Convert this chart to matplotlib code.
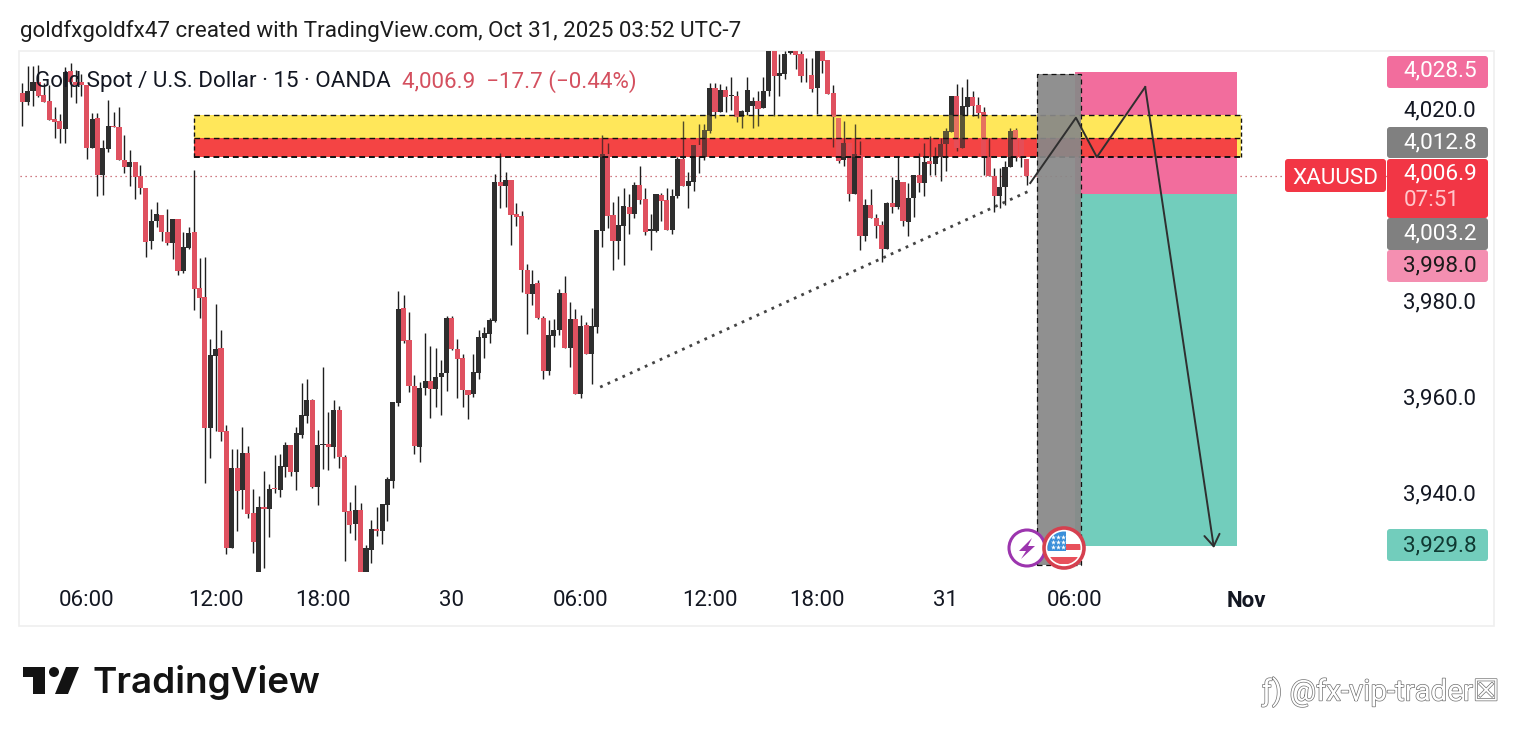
import matplotlib
matplotlib.use("Agg")
import matplotlib.pyplot as plt
import matplotlib.patheffects as pe
import numpy as np
from matplotlib.patches import Circle, FancyBboxPatch, Polygon, Rectangle
from matplotlib.transforms import ScaledTranslation

plt.rcParams["font.family"] = ["Roboto", "DejaVu Sans"]

# 15 min candles
opens = [
    4024.1, 4022.3, 4024.6, 4026.4, 4023.7, 4022.5, 4018.7, 4018.3, 4016.6, 4028.7,
    4026.4, 4026.4, 4025.8, 4012.8, 4018.9, 4007.0, 4012.5, 4017.3, 4017.1, 4010.3,
    4008.7, 4009.8, 4006.8, 4004.3, 3993.3, 3997.5, 3998.7, 3995.2, 3993.0, 3998.0,
    3987.1, 3991.9, 3995.2, 3983.5, 3981.6, 3954.4, 3969.4, 3971.0, 3953.7, 3929.4,
    3946.0, 3941.4, 3949.1, 3936.6, 3924.0, 3938.0, 3937.6, 3941.9, 3941.5, 3946.3,
    3950.8, 3945.3, 3952.9, 3956.9, 3960.2, 3942.1, 3950.9, 3951.0, 3950.5, 3958.1,
    3948.3, 3937.1, 3934.5, 3937.3, 3924.0, 3929.0, 3933.3, 3933.0, 3938.4, 3943.4,
    3959.6, 3979.3, 3972.7, 3963.1, 3950.5, 3962.8, 3964.1, 3962.6, 3965.0, 3965.9,
    3977.3, 3970.8, 3968.9, 3962.4, 3961.4, 3965.9, 3973.1, 3974.0, 3976.7, 4005.7,
    4004.7, 4006.0, 3998.9, 3998.6, 3987.3, 3982.3, 3984.5, 3977.4, 3966.3, 3973.5,
    3974.7, 3982.4, 3971.1, 3977.0, 3961.5, 3975.8, 3969.8, 3975.5, 3995.5, 4011.5,
    3998.7, 3993.4, 3996.5, 4000.4, 3999.0, 4005.0, 4002.1, 3995.5, 3995.4, 4002.9,
    4001.9, 3995.6, 4002.7, 4010.4, 4004.7, 4005.7, 4013.3, 4010.9, 4016.3, 4025.1,
    4020.1, 4024.8, 4023.6, 4023.5, 4019.2, 4020.3, 4021.5, 4022.5, 4021.1, 4024.5,
    4034.5, 4027.6, 4028.1, 4032.4, 4032.8, 4032.2, 4027.9, 4028.0, 4025.1, 4032.8,
    4031.0, 4024.1, 4018.9, 4010.1, 4013.7, 4003.1, 4011.3, 3994.4, 4000.8, 3998.1,
    3996.7, 3991.7, 4001.2, 4000.4, 4005.7, 3997.2, 4002.2, 4007.1, 4005.4, 4010.0,
    4009.4, 4010.8, 4013.5, 4016.1, 4023.6, 4012.6, 4021.3, 4023.3, 4021.7, 4020.3,
    4010.9, 4006.8, 4002.6, 4004.5, 4008.8, 4016.5, 4014.7, 4010.4,
]
closes = [
    4022.3, 4024.6, 4026.4, 4023.6, 4022.3, 4018.5, 4018.2, 4016.6, 4028.6, 4026.4,
    4025.8, 4025.8, 4012.8, 4018.7, 4007.0, 4012.6, 4017.3, 4017.0, 4010.3, 4008.7,
    4009.8, 4006.7, 4004.3, 3993.2, 3997.6, 3998.9, 3995.2, 3993.0, 3998.0, 3987.1,
    3992.1, 3994.9, 3983.4, 3981.4, 3954.4, 3969.6, 3970.8, 3953.6, 3929.4, 3946.0,
    3941.3, 3949.1, 3936.5, 3930.7, 3938.0, 3937.6, 3941.6, 3941.6, 3946.4, 3950.8,
    3945.3, 3953.3, 3957.1, 3960.2, 3942.1, 3950.8, 3951.0, 3950.5, 3958.1, 3948.3,
    3936.9, 3934.2, 3937.3, 3924.0, 3929.3, 3933.3, 3933.0, 3938.5, 3943.7, 3959.8,
    3979.2, 3972.6, 3963.1, 3950.7, 3962.8, 3964.1, 3962.6, 3965.0, 3965.8, 3977.3,
    3970.8, 3968.8, 3962.4, 3961.3, 3966.0, 3973.3, 3974.1, 3976.9, 4005.7, 4004.7,
    4006.0, 3998.8, 3998.4, 3987.2, 3982.3, 3984.4, 3977.2, 3966.3, 3973.7, 3974.8,
    3982.6, 3971.1, 3977.0, 3961.5, 3975.6, 3969.9, 3975.6, 3995.6, 4011.5, 3998.5,
    3993.4, 3996.7, 4000.6, 3999.0, 4005.0, 4001.9, 3995.3, 3995.8, 4003.1, 4001.7,
    3995.6, 4002.7, 4010.4, 4004.7, 4005.8, 4013.3, 4011.0, 4016.5, 4025.1, 4020.3,
    4024.7, 4023.4, 4023.8, 4019.2, 4020.4, 4024.8, 4022.5, 4020.8, 4024.6, 4034.5,
    4027.6, 4028.3, 4032.3, 4032.8, 4032.1, 4027.6, 4028.0, 4025.0, 4032.8, 4030.9,
    4024.0, 4019.1, 4010.0, 4013.7, 4003.1, 4011.4, 3994.4, 4000.8, 3998.1, 3996.5,
    3991.7, 4001.2, 4000.5, 4006.0, 3997.4, 4002.2, 4007.1, 4005.4, 4009.7, 4009.4,
    4010.9, 4013.5, 4016.3, 4023.6, 4012.6, 4021.5, 4023.3, 4021.5, 4020.0, 4010.9,
    4006.8, 4002.6, 4004.5, 4008.8, 4016.3, 4010.7, 4010.6, 4006.9,
]
highs = [
    4026.2, 4029.8, 4029.8, 4030.0, 4026.2, 4025.8, 4021.3, 4019.8, 4029.6, 4030.5,
    4028.9, 4028.2, 4025.8, 4019.9, 4019.9, 4014.4, 4022.7, 4020.3, 4021.3, 4015.4,
    4012.3, 4009.8, 4009.1, 4004.3, 3999.9, 4001.4, 3998.7, 4000.1, 3998.0, 3998.0,
    3995.2, 3996.3, 4008.1, 3989.7, 3989.9, 3973.0, 3980.2, 3974.9, 3955.0, 3950.0,
    3950.0, 3954.6, 3950.6, 3941.6, 3940.2, 3945.4, 3942.7, 3948.7, 3949.0, 3951.4,
    3950.8, 3954.6, 3963.8, 3964.6, 3960.4, 3953.9, 3967.0, 3957.8, 3960.2, 3959.0,
    3948.7, 3938.9, 3942.5, 3938.8, 3930.0, 3935.2, 3938.0, 3938.5, 3944.2, 3959.8,
    3982.9, 3982.1, 3978.5, 3965.4, 3963.9, 3974.1, 3971.5, 3971.0, 3968.5, 3977.7,
    3977.7, 3973.0, 3969.8, 3962.4, 3969.8, 3974.9, 3975.5, 3977.4, 4007.3, 4011.7,
    4007.6, 4006.0, 4001.2, 3999.6, 3988.5, 3987.3, 3985.2, 3977.8, 3976.9, 3977.1,
    3983.3, 3986.0, 3980.6, 3979.2, 3977.9, 3976.5, 3979.3, 3995.6, 4015.4, 4013.7,
    4001.5, 4002.6, 4004.3, 4003.1, 4005.7, 4009.0, 4004.3, 3999.0, 4003.1, 4003.3,
    4004.3, 4004.1, 4010.9, 4018.3, 4007.8, 4013.3, 4017.7, 4017.8, 4026.2, 4026.2,
    4026.0, 4025.7, 4027.4, 4024.5, 4020.6, 4027.4, 4023.4, 4024.5, 4027.4, 4035.0,
    4035.0, 4032.3, 4033.0, 4033.0, 4033.0, 4033.0, 4031.5, 4031.5, 4034.0, 4034.0,
    4031.0, 4025.8, 4018.9, 4018.3, 4013.7, 4017.6, 4014.2, 4002.1, 4004.2, 3998.9,
    3997.4, 4001.5, 4006.7, 4010.9, 4005.7, 4005.4, 4007.1, 4011.6, 4013.7, 4015.1,
    4013.0, 4014.7, 4016.9, 4023.6, 4026.0, 4025.5, 4027.1, 4024.5, 4023.4, 4021.3,
    4014.7, 4008.5, 4008.5, 4009.9, 4016.9, 4016.8, 4014.7, 4010.4,
]
lows = [
    4017.3, 4021.6, 4021.4, 4023.4, 4022.3, 4018.5, 4014.7, 4013.8, 4013.8, 4023.4,
    4022.1, 4023.5, 4010.5, 4012.8, 4002.8, 4002.9, 4011.9, 4017.0, 4010.3, 4007.5,
    4004.8, 4002.0, 4003.2, 3989.9, 3991.7, 3996.3, 3993.4, 3992.5, 3989.6, 3986.2,
    3986.7, 3991.7, 3979.0, 3977.2, 3943.0, 3948.2, 3953.8, 3951.7, 3928.1, 3929.4,
    3933.0, 3937.5, 3935.6, 3928.4, 3923.0, 3925.3, 3931.7, 3940.9, 3940.0, 3944.2,
    3944.4, 3941.4, 3952.3, 3955.5, 3941.8, 3938.3, 3945.8, 3945.6, 3948.2, 3946.1,
    3926.7, 3932.6, 3931.0, 3923.0, 3923.0, 3926.3, 3932.0, 3930.2, 3935.0, 3941.9,
    3959.0, 3972.0, 3961.9, 3949.0, 3947.4, 3961.2, 3956.5, 3958.8, 3957.1, 3962.1,
    3970.6, 3960.7, 3958.8, 3956.2, 3960.8, 3964.6, 3968.9, 3972.0, 3976.5, 4000.3,
    4000.5, 3992.5, 3996.5, 3982.8, 3974.0, 3980.0, 3977.1, 3964.5, 3965.4, 3971.2,
    3973.8, 3971.1, 3967.0, 3961.5, 3960.7, 3969.9, 3963.5, 3974.2, 3992.1, 3996.0,
    3987.2, 3989.6, 3988.3, 3994.8, 3998.2, 4001.0, 3994.6, 3991.5, 3995.3, 3997.4,
    3995.6, 3994.8, 4002.2, 4004.7, 4000.3, 4003.8, 4007.4, 4010.2, 4015.8, 4019.0,
    4020.1, 4020.3, 4020.6, 4018.2, 4016.8, 4019.5, 4016.8, 4017.2, 4021.0, 4023.6,
    4019.4, 4023.6, 4027.0, 4032.3, 4029.2, 4026.5, 4026.5, 4024.3, 4019.8, 4028.3,
    4023.9, 4013.0, 4009.5, 4009.0, 4001.7, 4003.1, 3991.5, 3993.3, 3998.1, 3994.0,
    3989.0, 3991.7, 3999.1, 4000.1, 3996.5, 3994.4, 3998.4, 4003.6, 4002.6, 4007.1,
    4007.1, 4005.8, 4007.9, 4016.0, 4012.1, 4012.6, 4019.6, 4019.4, 4019.0, 4007.1,
    4006.8, 3999.3, 4000.3, 4000.8, 4008.7, 4010.0, 4008.8, 4005.0,
]

time_ticks = [12, 36, 56, 80, 104, 128, 148, 172, 196, 228]
time_labels = ["06:00", "12:00", "18:00", "30", "06:00", "12:00", "18:00", "31", "06:00", "Nov"]
price_ticks = [4020, 3980, 3960, 3940]
price_labels = ["4,020.0", "3,980.0", "3,960.0", "3,940.0"]

last_price = 4006.9
zone_yellow = (4010.8, 4019.6)
zone_red = (4010.8, 4014.8)
zone_start, zone_end, zone_red_end = 32, 227, 226.2
entry, stop, target = 4003.2, 4028.5, 3929.8
box_start, box_end = 196, 226.2
grey_start, grey_end, grey_low, grey_high = 188.9, 197.2, 3925.8, 4028.1
trend_x = [107.6, 188]
trend_y = [3962.9, 4004.0]
path_x = [187.7, 196.2, 200.1, 209.1]
path_y = [4005.4, 4019.0, 4010.8, 4025.4]
arrow_tip = (221.9, 3929.4)

RED = "#DF5160"
BLACK = "#2E2E2E"
W, H = 1513, 738


def pixel_box(ax, x0, y0, x1, y1, color):
    ax.add_patch(FancyBboxPatch((x0 + 3, y0 + 3), x1 - x0 - 6, y1 - y0 - 6,
                                boxstyle="round,pad=3,rounding_size=3",
                                fc=color, ec="none"))


fig = plt.figure(figsize=(W / 100, H / 100), dpi=100, facecolor="white")

# chart frame sits behind everything
bg = fig.add_axes([0, 0, 1, 1])
bg.set_xlim(0, W)
bg.set_ylim(H, 0)
bg.axis("off")
bg.add_patch(Rectangle((18.5, 50.5), 1475, 575, fc="white", ec="#EFEFEF", lw=1.2))

ax = fig.add_axes([20 / W, 1 - 572 / H, 1367 / W, 521 / H])
ax.patch.set_alpha(0)
ax.set_xlim(-0.43, 254.13)
ax.set_ylim(3924.4, 4032.9)
for s in ax.spines.values():
    s.set_visible(False)

ax.axhline(last_price, color="#C0505C", lw=0.9, ls=(0, (1, 3)), zorder=1)

# short position box
ax.add_patch(Rectangle((box_start, entry), box_end - box_start, stop - entry, fc="#F26D9D", ec="none", zorder=1.5))
ax.add_patch(Rectangle((box_start, target), box_end - box_start, entry - target, fc="#72CDBC", ec="none", zorder=1.5))

# supply zones, opaque below the candles and a thin tint above
ax.add_patch(Rectangle((zone_start, zone_yellow[0]), zone_end - zone_start, zone_yellow[1] - zone_yellow[0],
                       fc="#FFE75A", ec="none", zorder=2))
ax.add_patch(Rectangle((zone_start, zone_red[0]), zone_red_end - zone_start, zone_red[1] - zone_red[0],
                       fc="#F44444", ec="none", zorder=2))

x = np.arange(len(opens))
o, c, hi, lo = map(np.array, (opens, closes, highs, lows))
colors = np.where(c < o, RED, BLACK)
ax.vlines(x, lo, hi, color="#1E1E1E", lw=1.0, zorder=3)
ax.bar(x, np.abs(c - o), bottom=np.minimum(o, c), width=0.95, color=colors, lw=0, zorder=3.5)

ax.add_patch(Rectangle((zone_start, zone_red[1]), zone_end - zone_start, zone_yellow[1] - zone_red[1],
                       fc="#FFE75A", ec="none", alpha=0.22, zorder=4))
ax.add_patch(Rectangle((zone_start, zone_red[0]), zone_red_end - zone_start, zone_red[1] - zone_red[0],
                       fc="#F44444", ec="none", alpha=0.3, zorder=4.1))
ax.hlines([zone_yellow[1], zone_red[1]], zone_start, zone_end, color="#111111", lw=1.0, ls=(0, (4, 3)), zorder=4.5)
ax.hlines(zone_red[0], zone_start, zone_end, color="#111111", lw=1.4, ls=(0, (3, 2)), zorder=4.5)
ax.vlines([zone_start, zone_end], *zone_yellow, color="#111111", lw=1.0, ls=(0, (3, 2)), zorder=4.5)

# grey vertical block
ax.add_patch(Rectangle((grey_start, grey_low), grey_end - grey_start, grey_high - grey_low,
                       fc="#888888", ec="none", alpha=0.93, zorder=5))
ax.add_patch(Rectangle((grey_start, grey_low), grey_end - grey_start, grey_high - grey_low,
                       fc="none", ec="#111111", lw=0.9, ls=(0, (4, 3)), zorder=5.1))

ax.plot(trend_x, trend_y, color="#444444", lw=2.0, ls=(0, (1, 1.95)), zorder=5.5)
ax.plot(path_x, path_y, color="#2F2F2F", lw=1.4, zorder=6)
ax.annotate("", xy=arrow_tip, xytext=(path_x[-1], path_y[-1]), zorder=6,
            arrowprops=dict(arrowstyle="->,head_length=0.75,head_width=0.5", color="#2F2F2F", lw=1.4,
                            shrinkA=0, shrinkB=0, mutation_scale=11))

ax.set_xticks(time_ticks)
ax.set_xticklabels(time_labels, fontsize=16, color="#131722")
ax.get_xticklabels()[-1].set_fontweight("bold")
ax.yaxis.tick_right()
ax.set_yticks(price_ticks)
ax.set_yticklabels(price_labels, fontsize=16, color="#131722")
ax.tick_params(axis="x", length=0, pad=13.3)
ax.tick_params(axis="y", length=0, pad=11.5)
# price scale text sits a little above the true level in the picture
for tick in ax.yaxis.get_major_ticks():
    tick.label2.set_transform(tick.label2.get_transform() + ScaledTranslation(0, 4.5 / 100, fig.dpi_scale_trans))

# everything laid out in screen pixels on top
top = fig.add_axes([0, 0, 1, 1])
top.patch.set_alpha(0)
top.set_xlim(0, W)
top.set_ylim(H, 0)
top.axis("off")

top.text(20, 31, "goldfxgoldfx47 created with TradingView.com, Oct 31, 2025 03:52 UTC-7",
         fontsize=16.12, color="#1C1C1C", va="center", ha="left")
top.text(35, 82, "Gold Spot / U.S. Dollar · 15 · OANDA", fontsize=16.12, color="#131722", va="center")
top.text(402, 82, "4,006.9  −17.7 (−0.44%)", fontsize=16.12, color="#D4505F", va="center")

# price labels
pixel_box(top, 1387, 56, 1488, 88, "#F26D9D")
pixel_box(top, 1387, 127, 1488, 158, "#808080")
pixel_box(top, 1387, 159, 1488, 218, "#F23645")
pixel_box(top, 1387, 218, 1488, 250, "#808080")
pixel_box(top, 1387, 250, 1488, 282, "#F48FB1")
pixel_box(top, 1387, 529, 1488, 561, "#72CDBC")
pixel_box(top, 1285, 159, 1386, 192, "#F23645")
for y, txt, col in [(71, "4,028.5", "white"), (143, "4,012.8", "white"), (174, "4,006.9", "white"),
                    (201, "07:51", "#FFC7CC"), (234, "4,003.2", "white"), (266, "3,998.0", "#1B1B1B"),
                    (546, "3,929.8", "#103A33")]:
    top.text(1403.5, y, txt, fontsize=16.2, color=col, va="center", ha="left")
top.text(1292, 178, "XAUUSD", fontsize=16.2, color="white", va="center", ha="left")

# event bubbles
top.add_patch(Circle((1027, 548), 18, fc="white", ec="#9C35AE", lw=2.2, zorder=3))
top.add_patch(Polygon([[1032, 538], [1019, 551], [1026, 551], [1021, 559], [1035, 546], [1028, 546]],
                      fc="#9C35AE", ec="none", zorder=4))
top.add_patch(Circle((1064, 548), 20, fc="white", ec="#D5404F", lw=2.6, zorder=5))
clip = Circle((1064, 548), 16.5, transform=top.transData)
for y0, hgt, col, x0, wid in [(544, 6, "#E8505B", 1047, 34), (557, 7, "#E8505B", 1047, 34), (531, 20, "#3B8FD9", 1047, 19)]:
    r = Rectangle((x0, y0), wid, hgt, fc=col, ec="none", zorder=6)
    top.add_patch(r)
    r.set_clip_path(clip)
top.scatter([1053, 1058, 1063, 1053, 1058, 1063, 1053, 1058, 1063], [537, 537, 537, 542, 542, 542, 547, 547, 547],
            marker="*", s=14, c="white", lw=0, zorder=7)

# logo
top.add_patch(Polygon([[23, 667], [45, 667], [45, 694], [33, 694], [33, 677], [23, 677]], fc="#131313", ec="none"))
top.add_patch(Circle((54, 672), 5, fc="#131313", ec="none"))
top.add_patch(Polygon([[79, 667], [68, 694], [55, 694], [66, 667]], fc="#131313", ec="none"))
top.text(92, 683, "TradingView", fontsize=26.5, family="Inter", fontweight="semibold", color="#131313", va="center")

top.text(1262, 692, "ƒ) @fx-vip-trader☒", fontsize=21.2, color="white", va="center", ha="left",
         family=["Roboto", "DejaVu Sans"],
         path_effects=[pe.withStroke(linewidth=1.0, foreground="#707070")])

fig.savefig("out.png", dpi=100)
